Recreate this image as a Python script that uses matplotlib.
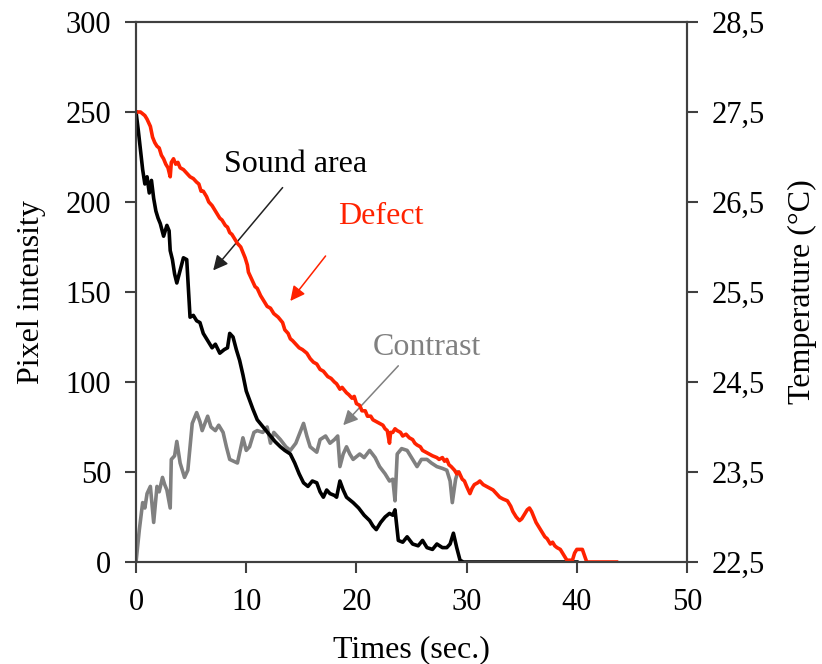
import matplotlib
matplotlib.use("Agg")
from matplotlib import pyplot as plt
from matplotlib.ticker import FuncFormatter

# Defect (red)
defect_t = [0, 0.4, 0.8, 1.0, 1.3, 1.5, 1.7, 1.9, 2.1, 2.3, 2.5, 2.7, 2.9, 3.1,
            3.2, 3.4, 3.6, 3.8, 4.0, 4.3, 4.6, 4.9, 5.2, 5.5, 5.7, 5.9, 6.1,
            6.4, 6.6, 6.9, 7.1, 7.3, 7.6, 7.8, 8.1, 8.3, 8.5, 8.7, 9.0, 9.2,
            9.5, 9.7, 9.9, 10.1, 10.2, 10.5, 10.8, 11.0, 11.3, 11.6, 11.9,
            12.2, 12.5, 12.9, 13.3, 13.5, 13.8, 14.0, 14.2, 14.5, 14.8, 15.1,
            15.5, 15.8, 16.1, 16.4, 16.7, 17.0, 17.4, 17.7, 18.0, 18.2, 18.5,
            18.7, 19.1, 19.3, 19.6, 19.8, 20.0, 20.3, 20.5, 20.8, 21.0, 21.3,
            21.5, 21.8, 22.1, 22.4, 22.6, 22.8, 23.0, 23.1, 23.3, 23.5, 23.7,
            24.0, 24.2, 24.5, 24.8, 25.1, 25.3, 25.5, 25.8, 26.0, 26.3, 26.6,
            26.9, 27.3, 27.5, 27.8, 28.0, 28.2, 28.4, 28.6, 28.9, 29.1, 29.3,
            29.6, 29.8, 30.0, 30.3, 30.5, 30.7, 31.0, 31.2, 31.5, 31.8, 32.1,
            32.4, 32.7, 33.0, 33.3, 33.7, 34.0, 34.2, 34.5, 34.8, 35.0, 35.2,
            35.5, 35.7, 35.9, 36.1, 36.3, 36.6, 36.8, 37.1, 37.3, 37.6, 37.8,
            38.0, 38.2, 38.5, 38.8, 39.1, 39.6, 39.8, 40.0, 40.5, 40.9, 43.6]
defect_v = [250, 250, 248, 246, 242, 236, 233, 231, 230, 226, 224, 221, 219, 214,
            222, 224, 221, 222, 219, 218, 216, 214, 213, 211, 210, 206, 206,
            203, 200, 198, 196, 194, 191, 190, 187, 186, 183, 182, 179, 177,
            175, 172, 169, 165, 161, 157, 153, 152, 148, 145, 142,
            141, 138, 136, 133, 129, 127, 124, 123, 121, 119, 118,
            116, 113, 111, 110, 107, 106, 103, 102, 100, 99, 96,
            97, 94, 93, 91, 92, 88, 87, 84, 84, 81, 81,
            79, 78, 77, 76, 74, 73, 66, 72, 72, 74, 73,
            72, 70, 71, 69, 68, 66, 65, 64, 62, 61, 60,
            59, 58, 57, 58, 56, 57, 54, 53, 51, 49, 50,
            46, 45, 42, 38, 41, 43, 44, 45, 43, 42, 41,
            40, 38, 36, 35, 34, 31, 28, 25, 23, 24, 26,
            29, 30, 28, 25, 22, 19, 17, 14, 13, 10, 11,
            9, 8, 7, 4, 1, 1, 5, 7, 7, 0, 0]

# Sound area (black)
sound_t = [0, 0.2, 0.4, 0.6, 0.8, 1.0, 1.2, 1.4, 1.6, 1.8, 2.0, 2.2, 2.5, 2.8,
           3.0, 3.1, 3.3, 3.5, 3.7, 4.0, 4.3, 4.6, 4.9, 5.2, 5.5, 5.8, 6.1, 6.5,
           6.9, 7.2, 7.6, 8.0, 8.3, 8.5, 8.8, 9.1, 9.4, 9.7, 10.0, 10.3, 10.6,
           11.0, 11.4, 11.8, 12.2, 12.6, 13.1, 13.5, 14.0, 14.4, 14.8, 15.2,
           15.6, 16.0, 16.4, 16.7, 17.0, 17.3, 17.6, 18.0, 18.2, 18.5, 18.8,
           19.1, 19.7, 20.2, 20.7, 21.2, 21.5, 21.8, 22.2, 22.6, 23.0, 23.3,
           23.5, 23.8, 24.2, 24.6, 25.1, 25.6, 26.0, 26.4, 26.9, 27.3, 27.8,
           28.2, 28.5, 28.8, 29.1, 29.4, 29.7, 40.0]
sound_v = [250, 240, 229, 218, 210, 214, 205, 212, 202, 195, 191, 188, 181, 187,
           184, 173, 168, 160, 155, 162, 169, 168, 136, 137, 134, 133, 127, 123,
           119, 121, 116, 118, 119, 127, 125, 118, 112, 104, 95, 90, 85,
           79, 76, 73, 70, 67, 64, 62, 60, 55, 49, 44,
           42, 45, 44, 39, 36, 40, 38, 37, 36, 45, 40,
           36, 33, 30, 26, 23, 20, 18, 22, 25, 27, 26,
           29, 12, 11, 14, 10, 9, 12, 8, 7, 10, 8,
           8, 10, 16, 8, 1, 0, 0]

# Contrast (gray)
contrast_t = [0, 0.3, 0.6, 0.8, 1.0, 1.3, 1.6, 1.9, 2.1, 2.4, 2.6, 2.8, 3.1, 3.2,
              3.5, 3.7, 4.0, 4.4, 4.7, 5.1, 5.5, 5.8, 6.0, 6.5, 6.8, 7.2, 7.5,
              7.9, 8.2, 8.5, 9.2, 9.7, 10.0, 10.3, 10.7, 11.0, 11.5, 11.9, 12.2,
              12.5, 12.8, 13.1, 13.6, 14.0, 14.5, 15.2, 15.5, 15.8, 16.4, 16.7,
              17.2, 17.6, 18.0, 18.3, 18.5, 18.8, 19.1, 19.4, 19.7, 20.3, 20.7,
              21.2, 21.7, 22.1, 22.6, 23.0, 23.3, 23.5, 23.7, 24.1, 24.6, 25.0,
              25.5, 25.9, 26.4, 26.8, 27.3, 27.8, 28.2, 28.5, 28.7, 29.0, 29.2]
contrast_v = [0, 18, 33, 30, 38, 42, 22, 42, 39, 47, 43, 40, 30, 57,
              59, 67, 55, 47, 51, 77, 83, 78, 73, 81, 75, 73, 76,
              72, 64, 57, 55, 69, 62, 64, 72, 73, 72, 75, 66,
              72, 70, 68, 64, 62, 66, 77, 70, 64, 61, 68,
              70, 66, 68, 70, 53, 60, 64, 60, 57, 60, 58,
              62, 58, 53, 49, 45, 46, 34, 60, 63, 62, 58,
              53, 57, 57, 55, 53, 52, 51, 45, 33, 46, 50]

temp_ticks = [22.5, 23.5, 24.5, 25.5, 26.5, 27.5, 28.5]

plt.rcParams["font.family"] = ["Liberation Serif", "DejaVu Serif"]
fs_tick = 22
fs_lab = 23
spine_col = "#404040"
red = "#ff2200"

fig, ax = plt.subplots(figsize=(8.22, 6.64), dpi=100)
fig.subplots_adjust(left=0.1655, right=0.8358, bottom=0.1536, top=0.9669)

ax.plot(contrast_t, contrast_v, color="#808080", lw=2.6, zorder=2)
ax.plot(sound_t, sound_v, color="black", lw=2.6, zorder=3)
ax.plot(defect_t, defect_v, color=red, lw=2.6, zorder=4)

ax.set_xlim(0, 50)
ax.set_ylim(0, 300)
ax.set_xticks(range(0, 51, 10))
ax.set_yticks(range(0, 301, 50))
ax.set_xlabel("Times (sec.)", fontsize=fs_lab, labelpad=13)
ax.set_ylabel("Pixel intensity", fontsize=fs_lab, labelpad=14)

ax2 = ax.twinx()
ax2.set_ylim(22.5, 28.5)
ax2.set_yticks(temp_ticks)
ax2.yaxis.set_major_formatter(FuncFormatter(lambda v, p: f"{v:.1f}".replace(".", ",")))
ax2.set_ylabel("Temperature (°C)", fontsize=fs_lab, labelpad=16)

for a in (ax, ax2):
    for s in a.spines.values():
        s.set_color(spine_col)
        s.set_linewidth(1.5)
    a.tick_params(direction="out", length=8, width=1.5, color=spine_col,
                  labelsize=fs_tick, pad=10)
ax.tick_params(axis="x", pad=11)
ax2.tick_params(axis="y", pad=10)

# annotations
ax.annotate("", xy=(7.0, 162), xytext=(13.3, 208),
            arrowprops=dict(arrowstyle="-|>", color="#222222", lw=1.1,
                            mutation_scale=22, shrinkA=0, shrinkB=0))
ax.text(14.5, 221, "Sound area", fontsize=fs_lab, ha="center", va="center")

ax.annotate("", xy=(14.0, 145), xytext=(17.2, 170),
            arrowprops=dict(arrowstyle="-|>", color=red, lw=1.1,
                            mutation_scale=22, shrinkA=0, shrinkB=0))
ax.text(22.2, 192, "Defect", fontsize=fs_lab, ha="center", va="center", color=red)

ax.annotate("", xy=(18.8, 76), xytext=(23.8, 109),
            arrowprops=dict(arrowstyle="-|>", color="#808080", lw=1.1,
                            mutation_scale=22, shrinkA=0, shrinkB=0))
ax.text(26.4, 119, "Contrast", fontsize=fs_lab, ha="center", va="center", color="#808080")

fig.savefig("out.png", dpi=100)
